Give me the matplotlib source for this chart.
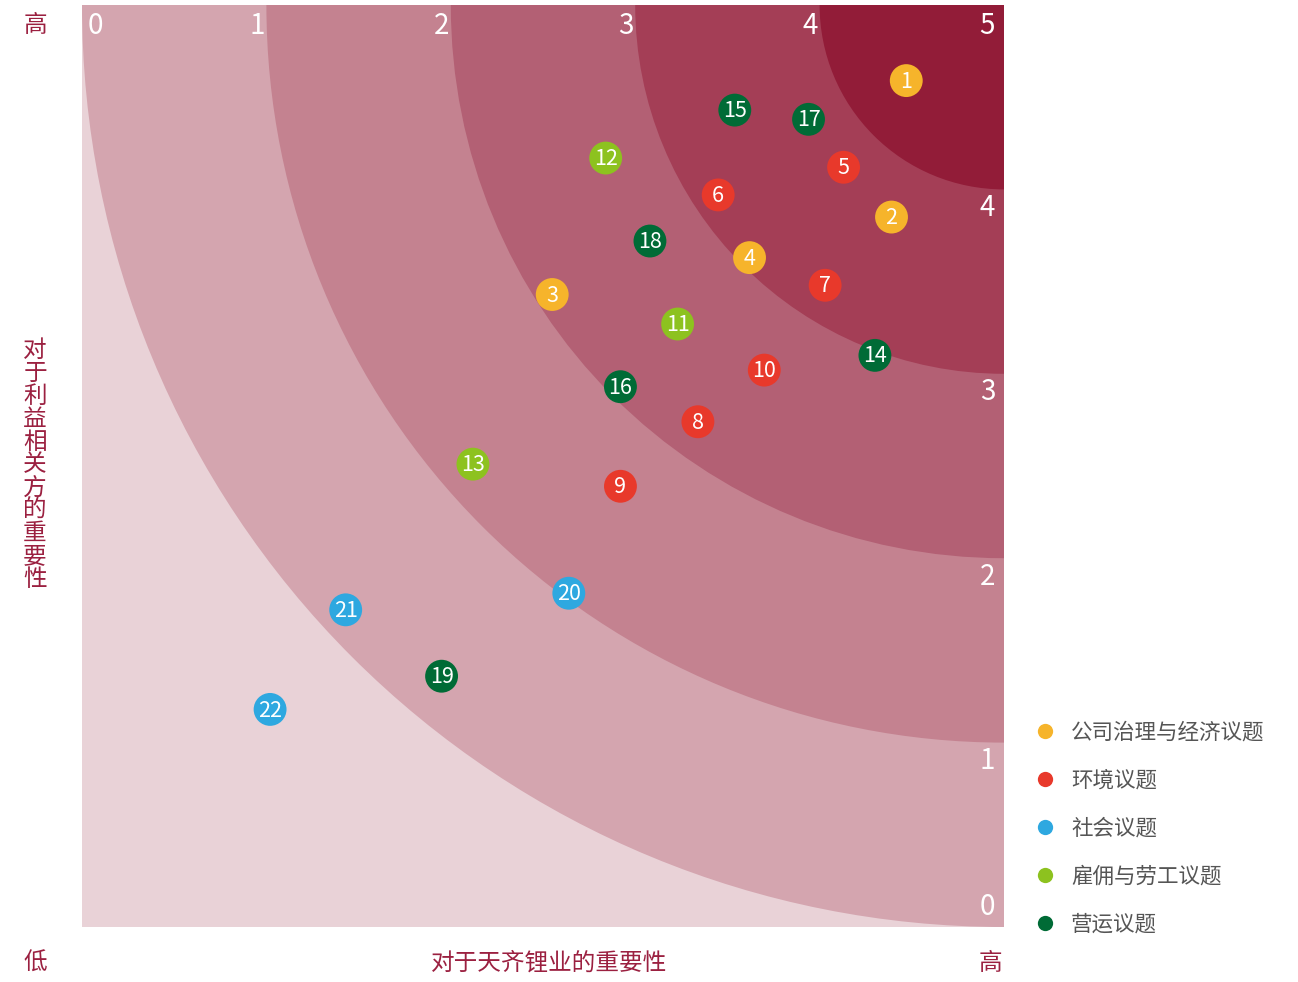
import matplotlib
matplotlib.use('Agg')
import matplotlib.pyplot as plt
from matplotlib.patches import Circle
from matplotlib.lines import Line2D

plt.rcParams['font.family'] = ['Noto Sans CJK SC', 'DejaVu Sans']

# Data
categories = ['公司治理与经济议题', '环境议题', '社会议题', '雇佣与劳工议题', '营运议题']
cat_colors = ['#F6B42B', '#E8392B', '#2EA8E0', '#8DC21F', '#006B36']

issue_ids = [1, 2, 3, 4, 5, 6, 7, 8, 9, 10, 11,
             12, 13, 14, 15, 16, 17, 18, 19, 20, 21, 22]
issue_x = [4.47, 4.39, 2.55, 3.62, 4.13, 3.45, 4.03, 3.34, 2.92, 3.70, 3.23,
           2.84, 2.12, 4.30, 3.54, 2.92, 3.94, 3.08, 1.95, 2.64, 1.43, 1.02]
issue_y = [4.59, 3.85, 3.43, 3.63, 4.12, 3.97, 3.48, 2.74, 2.39, 3.02, 3.27,
           4.17, 2.51, 3.10, 4.43, 2.93, 4.38, 3.72, 1.36, 1.81, 1.72, 1.18]
issue_cat = [0, 0, 0, 0, 1, 1, 1, 1, 1, 1, 3,
             3, 3, 4, 4, 4, 4, 4, 4, 2, 2, 2]

ring_radii = [5, 4, 3, 2, 1]
ring_colors = ['#D4A5AF', '#C48290', '#B36074', '#A43E56', '#921C38']
bg_color = '#E9D2D7'
tick_vals = [0, 1, 2, 3, 4, 5]
label_color = '#9B2040'

fig = plt.figure(figsize=(12.98, 9.82), dpi=100)
ax = fig.add_axes([82 / 1298, 55 / 982, 922 / 1298, 922 / 982])
ax.set_xlim(0, 5)
ax.set_ylim(0, 5)
ax.set_facecolor(bg_color)
for s in ax.spines.values():
    s.set_visible(False)
ax.set_xticks([])
ax.set_yticks([])

for r, c in zip(ring_radii, ring_colors):
    ax.add_patch(Circle((5, 5), r, facecolor=c, edgecolor='none', zorder=1))

# scale labels inside the plot
for v in tick_vals:
    if v == 0:
        xx = 0.07
    elif v == 5:
        xx = 4.91
    else:
        xx = v - 0.05
    ax.text(xx, 4.885, str(v), ha='center', va='center', color='white',
            fontsize=20, fontweight='light', zorder=2)
for v in tick_vals[:-1]:
    yy = 0.11 if v == 0 else v - 0.1
    ax.text(4.91, yy, str(v), ha='center', va='center', color='white',
            fontsize=20, fontweight='light', zorder=2)

# issues
for i, x, y, c in zip(issue_ids, issue_x, issue_y, issue_cat):
    ax.scatter(x, y, s=560, color=cat_colors[c], edgecolors='none', zorder=3)
    ax.text(x, y - 0.006, str(i), ha='center', va='center', color='white',
            fontsize=15.5, fontweight='light', zorder=4)

# axis labels
fig.text(35 / 1298, 1 - 25 / 982, '高', ha='center', va='center', color=label_color, fontsize=17)
fig.text(35 / 1298, 1 - 963 / 982, '低', ha='center', va='center', color=label_color, fontsize=17)
fig.text(990 / 1298, 1 - 963 / 982, '高', ha='center', va='center', color=label_color, fontsize=17)
fig.text(549 / 1298, 1 - 963 / 982, '对于天齐锂业的重要性', ha='center', va='center',
         color=label_color, fontsize=17)
fig.text(35 / 1298, 1 - 465 / 982, '\n'.join('对于利益相关方的重要性'), ha='center', va='center',
         color=label_color, fontsize=17, linespacing=0.99)

# legend, placed by hand
for k, (name, c) in enumerate(zip(categories, cat_colors)):
    yf = 1 - (733 + 48 * k) / 982
    fig.add_artist(Line2D([1045 / 1298], [yf + 2 / 982], marker='o', linestyle='none',
                          markersize=11, markerfacecolor=c, markeredgecolor='none',
                          transform=fig.transFigure))
    fig.text(1071 / 1298, yf, name, ha='left', va='center', color='#555555',
             fontsize=15.5)

fig.savefig('out.png', dpi=100)
